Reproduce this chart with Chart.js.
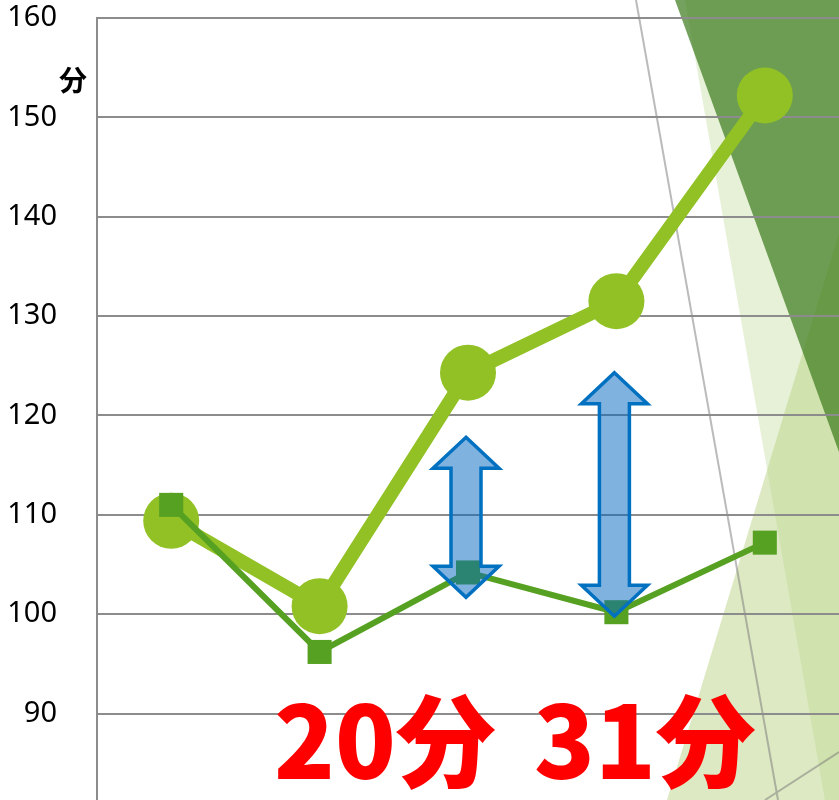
<!DOCTYPE html>
<html>
<head>
<meta charset="utf-8">
<script src="https://cdn.jsdelivr.net/npm/chart.js@4"></script>
<style>
html, body { margin: 0; padding: 0; background: #fff; }
#wrap { width: 839px; height: 800px; }
</style>
</head>
<body>
<div id="wrap"><canvas id="chart" width="839" height="800"></canvas></div>
<script>
const ctx = document.getElementById('chart').getContext('2d');

let categories = ['1', '2', '3', '4', '5'];
let upperValues = [109.4, 100.8, 124.3, 131.5, 152.2];
let lowerValues = [111.0, 96.2, 104.2, 100.2, 107.2];
let yTicks = [90, 100, 110, 120, 130, 140, 150, 160];

// double arrows between the two lines
let arrowIndex = [2, 3];
let arrowTop = [117.8, 124.3];
let arrowBottom = [101.7, 99.8];
let diffLabels = ['20分', '31分'];

function poly(c, pts, fill) {
    c.beginPath();
    c.moveTo(pts[0][0], pts[0][1]);
    for (let i = 1; i < pts.length; i++) c.lineTo(pts[i][0], pts[i][1]);
    c.closePath();
    c.fillStyle = fill;
    c.fill();
}

// slide decoration behind the chart
const slideBackground = {
    id: 'slideBackground',
    beforeDraw(chart) {
        const c = chart.ctx;
        c.save();
        poly(c, [[685, 0], [839, 0], [839, 800], [825, 800]], 'rgba(160,200,100,0.25)');
        poly(c, [[839, 233], [839, 800], [667, 800]], 'rgba(181,207,122,0.46)');
        poly(c, [[675, 0], [839, 0], [839, 452]], 'rgba(62,125,30,0.72)');
        c.strokeStyle = 'rgba(120,120,120,0.5)';
        c.lineWidth = 2;
        c.beginPath();
        c.moveTo(636, 0); c.lineTo(778, 800);
        c.moveTo(765, 800); c.lineTo(839, 752);
        c.stroke();
        c.restore();
    }
};

function drawArrow(c, cx, yTop, yBot) {
    const headW = 33, shaftW = 15, headH = 31;
    c.beginPath();
    c.moveTo(cx, yTop);
    c.lineTo(cx + headW, yTop + headH);
    c.lineTo(cx + shaftW, yTop + headH);
    c.lineTo(cx + shaftW, yBot - headH);
    c.lineTo(cx + headW, yBot - headH);
    c.lineTo(cx, yBot);
    c.lineTo(cx - headW, yBot - headH);
    c.lineTo(cx - shaftW, yBot - headH);
    c.lineTo(cx - shaftW, yTop + headH);
    c.lineTo(cx - headW, yTop + headH);
    c.closePath();
    c.fillStyle = 'rgba(0,102,192,0.5)';
    c.fill();
    c.strokeStyle = '#0070c0';
    c.lineWidth = 3.5;
    c.lineJoin = 'miter';
    c.stroke();
}

const overlay = {
    id: 'overlay',
    afterDatasetsDraw(chart) {
        const c = chart.ctx;
        const xs = chart.scales.x, ys = chart.scales.y;
        c.save();
        for (let i = 0; i < arrowIndex.length; i++) {
            drawArrow(c, xs.getPixelForValue(arrowIndex[i]) - 2,
                ys.getPixelForValue(arrowTop[i]), ys.getPixelForValue(arrowBottom[i]));
        }
        // unit label
        c.fillStyle = '#000';
        c.font = 'bold 28px "Noto Sans CJK JP"';
        c.textAlign = 'center';
        c.textBaseline = 'middle';
        c.fillText('分', 73, 80);
        // difference labels
        c.fillStyle = '#ff0000';
        c.font = '900 100px "Noto Sans CJK JP"';
        c.textAlign = 'left';
        c.textBaseline = 'alphabetic';
        c.fillText(diffLabels[0], 274, 779);
        c.fillText(diffLabels[1], 534, 779);
        c.restore();
    }
};

let timeChart = new Chart(ctx, {
    type: 'line',
    data: {
        labels: categories,
        datasets: [{
            data: lowerValues,
            borderColor: '#56a122',
            backgroundColor: '#56a122',
            borderWidth: 6,
            pointStyle: 'rect',
            pointRadius: 17,
            pointBorderWidth: 0,
            order: 0,
            clip: false
        }, {
            data: upperValues,
            borderColor: '#91c124',
            backgroundColor: '#91c124',
            borderWidth: 14,
            pointRadius: 28,
            pointBorderWidth: 0,
            order: 1,
            clip: false
        }]
    },
    options: {
        responsive: false,
        animation: false,
        layout: { autoPadding: false, padding: { top: 18, left: 0, right: 0, bottom: 0 } },
        scales: {
            x: {
                type: 'category',
                display: false,
                offset: true
            },
            y: {
                min: 81.3,
                max: 160,
                afterBuildTicks: (axis) => { axis.ticks = yTicks.map(v => ({ value: v })); },
                afterFit: (axis) => {
                    axis.width = 97;
                    axis.paddingTop = 0;
                    axis.paddingBottom = 0;
                },
                grid: { color: '#8c8c8c', lineWidth: 2, drawTicks: false },
                border: { color: '#8c8c8c', width: 2 },
                ticks: {
                    color: '#000',
                    font: { family: 'Noto Sans', size: 29 },
                    padding: 40
                }
            }
        },
        plugins: {
            legend: { display: false },
            tooltip: { enabled: false }
        }
    },
    plugins: [slideBackground, overlay]
});
</script>
</body>
</html>
